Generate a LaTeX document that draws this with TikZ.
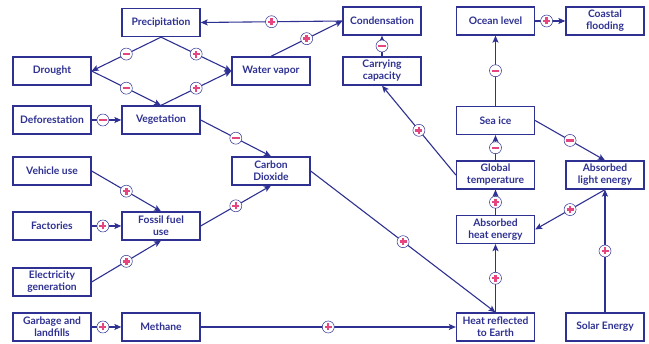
\documentclass[tikz,border=0pt]{standalone}
\usepackage{fontspec}
\setmainfont{Lato}
\usetikzlibrary{arrows.meta}
\definecolor{Navy}{RGB}{46,49,146}
\definecolor{SignPink}{RGB}{230,70,128}

\tikzset{
    box/.style={draw=Navy, line width=1.3pt, fill=white, minimum width=78pt, minimum height=28pt,
        inner sep=1pt, align=center, text=Navy, font=\fontsize{10.3}{12}\selectfont\bfseries},
    link/.style={draw=Navy, line width=1.1pt, -{Stealth[length=7pt,width=6pt,inset=1.5pt]}},
    sign/.style={circle, draw=Navy, line width=0.5pt, fill=white, inner sep=0pt, minimum size=12pt},
    psign/.style={sign, path picture={
        \draw[-, SignPink, line width=2.4pt] ([xshift=-3.5pt]path picture bounding box.center) -- ([xshift=3.5pt]path picture bounding box.center);
        \draw[-, SignPink, line width=2.4pt] ([yshift=-3.5pt]path picture bounding box.center) -- ([yshift=3.5pt]path picture bounding box.center);}},
    nsign/.style={sign, path picture={
        \draw[-, SignPink, line width=2.4pt] ([xshift=-3.7pt]path picture bounding box.center) -- ([xshift=3.7pt]path picture bounding box.center);}},
}

\begin{document}
\begin{tikzpicture}[x=1pt, y=-1pt]
    \useasboundingbox (0,0) rectangle (649,344);

    % Water cycle
    \node (precip) [box] at (161,22.5) {Precipitation};
    \node (cond)   [box] at (382,21)   {Condensation};
    \node (drought)[box] at (52,71)    {Drought};
    \node (vapor)  [box] at (271,71)   {Water vapor};
    \node (carry)  [box] at (382,71)   {Carrying\\capacity};
    \node (defor)  [box] at (52,120)   {Deforestation};
    \node (veg)    [box] at (161,120)  {Vegetation};

    % Emissions
    \node (vehicle)  [box] at (52,171)  {Vehicle use};
    \node (co2)      [box] at (271,171) {Carbon\\Dioxide};
    \node (factories)[box] at (52,226)  {Factories};
    \node (fossil)   [box] at (161,226) {Fossil fuel\\use};
    \node (elec)     [box] at (52,282)  {Electricity\\generation};
    \node (garbage)  [box] at (52,327)  {Garbage and\\landfills};
    \node (methane)  [box] at (161,327) {Methane};

    % Heat and ice
    \node (ocean)    [box] at (495.5,21)  {Ocean level};
    \node (coastal)  [box] at (605,21)    {Coastal\\flooding};
    \node (seaice)   [box] at (495.5,120.5) {Sea ice};
    \node (globtemp) [box] at (495.5,175) {Global\\temperature};
    \node (light)    [box] at (605,175)   {Absorbed\\light energy};
    \node (heat)     [box] at (495.5,229.5) {Absorbed\\heat energy};
    \node (reflected)[box] at (495.5,327) {Heat reflected\\to Earth};
    \node (solar)    [box] at (605,327)   {Solar Energy};

    % Long links, sign in the middle
    \foreach \a/\b/\s in {
        cond.west/precip.east/psign,
        vapor.north/cond.west/psign,
        precip.south/drought.east/nsign,
        precip.south/vapor.west/psign,
        drought.east/veg.north/nsign,
        veg.north/vapor.west/psign,
        veg.east/co2.north/nsign,
        vehicle.east/fossil.north/psign,
        elec.east/fossil.south/psign,
        fossil.east/co2.south/psign,
        co2.east/reflected.north/psign,
        methane.east/reflected.west/psign,
        reflected.north/heat.south/psign,
        heat.north/globtemp.south/psign,
        globtemp.north/seaice.south/nsign,
        globtemp.west/carry.south/psign,
        carry.north/cond.south/nsign,
        seaice.north/ocean.south/nsign,
        seaice.east/light.north/nsign,
        light.south/heat.east/psign,
        solar.north/light.south/psign}
        \draw [link] (\a) -- node[\s] {} (\b);

    % Short links, sign near the start
    \foreach \a/\b/\s in {
        defor.east/veg.west/nsign,
        factories.east/fossil.west/psign,
        garbage.east/methane.west/psign,
        ocean.east/coastal.west/psign}
        \draw [link] (\a) -- node[\s, pos=0.38] {} (\b);
\end{tikzpicture}
\end{document}
